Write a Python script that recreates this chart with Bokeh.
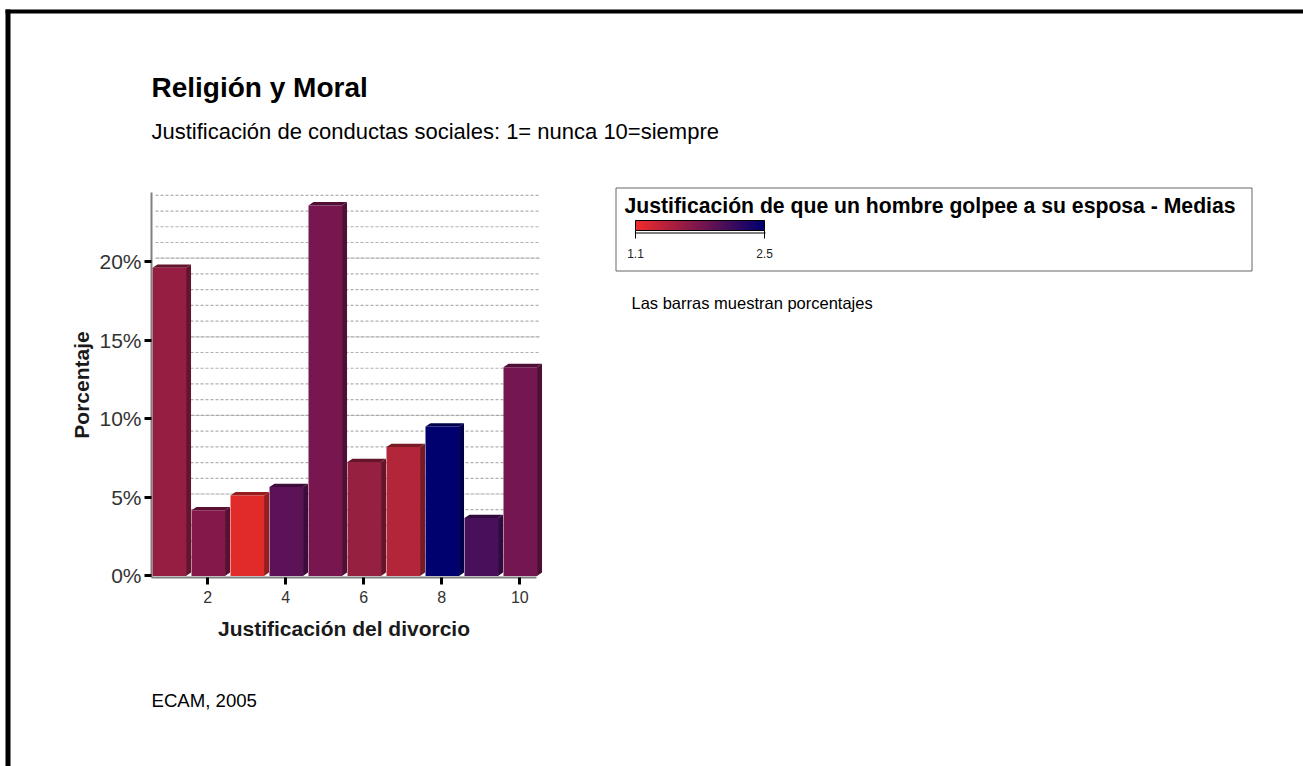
from bokeh.plotting import figure
from bokeh.embed import file_html
from bokeh.resources import INLINE
from bokeh.models import (Range1d, FixedTicker, PrintfTickFormatter, Label, PolyAnnotation,
                          ColorBar, LinearColorMapper)
import numpy as np

# ---- data ----
categories = [1, 2, 3, 4, 5, 6, 7, 8, 9, 10]
percentages = [19.6, 4.17, 5.12, 5.65, 23.57, 7.24, 8.2, 9.5, 3.68, 13.28]
bar_colors = ["#961E42", "#84184A", "#E12B2B", "#5C1256", "#781650",
              "#96203F", "#B32539", "#00006F", "#480F5A", "#741650"]
side_colors = ["#65142D", "#591032", "#971D1D", "#3E0C3A", "#510F36",
               "#65152A", "#781926", "#00004B", "#300A3D", "#4E0F36"]
y_ticks = [0, 5, 10, 15, 20]
x_ticks = [2, 4, 6, 8, 10]
minor_grid_levels = [1, 2, 3, 4, 6, 7, 8, 9, 11, 12, 13, 14, 16, 17, 18, 19, 21, 22, 23, 24]
major_grid_levels = [5, 10, 15, 20]
scale_low, scale_high = 1.1, 2.5
scale_colors = ("#F02C2C", "#00006F")

TITLE = "Religión y Moral"
SUBTITLE = "Justificación de conductas sociales: 1= nunca 10=siempre"
LEGEND_TITLE = "Justificación de que un hombre golpee a su esposa - Medias"
NOTE = "Las barras muestran porcentajes"
SOURCE = "ECAM, 2005"

W, H = 1303, 766
FONT = "Liberation Sans"
HALF = 0.43      # half bar width, x units
DX, DY = 0.128, 0.21   # 3-D depth
PX_X, PX_Y = 39.0, 15.72   # pixels per data unit
X_AT_2, Y_AT_0 = 207.3, 575.4   # page position of x=2 and y=0
x_start = 2 - X_AT_2 / PX_X
y_start = -(H - Y_AT_0) / PX_Y
AX_X, AX_Y = 0.556, -0.1   # where the axes cross

# the frame fills the page; the axes sit at fixed data positions inside it
p = figure(width=W, height=H, output_backend="svg", toolbar_location=None,
           x_range=Range1d(x_start, x_start + W / PX_X),
           y_range=Range1d(y_start, y_start + H / PX_Y),
           min_border=0, background_fill_color="white", border_fill_color="white",
           outline_line_color=None)
p.grid.visible = False

# back-wall grid, shifted up by the depth of the bars
x0, x1 = 0.659, 10.53
p.segment(x0=[x0] * len(minor_grid_levels), x1=[x1] * len(minor_grid_levels),
          y0=[v + DY for v in minor_grid_levels], y1=[v + DY for v in minor_grid_levels],
          line_color="#b0b0b0", line_width=1.2, line_dash="3 2")
p.segment(x0=[x0] * len(major_grid_levels), x1=[x1] * len(major_grid_levels),
          y0=[v + DY for v in major_grid_levels], y1=[v + DY for v in major_grid_levels],
          line_color="#a8a8a8", line_width=1.2, line_dash="4 1")

# bars: side, top, face
xc = np.array(categories, dtype=float) + 0.012
v = np.array(percentages)
side_xs = [[c + HALF, c + HALF + DX, c + HALF + DX, c + HALF] for c in xc]
side_ys = [[0, DY, h + DY, h] for h in v]
top_xs = [[c - HALF, c - HALF + DX, c + HALF + DX, c + HALF] for c in xc]
top_ys = [[h, h + DY, h + DY, h] for h in v]
p.patches(side_xs, side_ys, fill_color=side_colors, line_color=None)
p.patches(top_xs, top_ys, fill_color=side_colors, line_color=None)
p.quad(left=xc - HALF, right=xc + HALF, bottom=0, top=v, fill_color=bar_colors, line_color=None)

# axes
for ax in (p.xaxis[0], p.yaxis[0]):
    ax.axis_line_color = "#808080"
    ax.axis_line_width = 2
    ax.major_tick_line_color = "black"
    ax.major_tick_line_width = 3
    ax.major_tick_in = 0
    ax.major_tick_out = 7
    ax.minor_tick_line_color = None
    ax.major_label_text_font = FONT
    ax.major_label_text_color = "#333333"
    ax.axis_label_text_font = FONT
    ax.axis_label_text_font_style = "bold"
    ax.axis_label_text_color = "#1a1a1a"
    ax.axis_label_text_font_size = "21px"

p.yaxis[0].fixed_location = AX_X
p.yaxis[0].bounds = (AX_Y, 24.39)
p.yaxis[0].ticker = FixedTicker(ticks=y_ticks)
p.yaxis[0].formatter = PrintfTickFormatter(format="%d%%")
p.yaxis[0].major_label_text_font_size = "21px"
p.yaxis[0].major_label_standoff = 3
p.yaxis[0].axis_label = "Porcentaje"
p.yaxis[0].axis_label_standoff = 3

p.xaxis[0].fixed_location = AX_Y
p.xaxis[0].bounds = (AX_X, 10.44)
p.xaxis[0].ticker = FixedTicker(ticks=x_ticks)
p.xaxis[0].major_label_text_font_size = "16px"
p.xaxis[0].major_label_standoff = 7
p.xaxis[0].axis_label = "Justificación del divorcio"
p.xaxis[0].axis_label_standoff = 10


def text(t, x, y, size, bold=False, color="black"):
    p.add_layout(Label(x=x, y=H - y, x_units="screen", y_units="screen", text=t,
                       text_font=FONT, text_font_size=f"{size}px",
                       text_font_style="bold" if bold else "normal",
                       text_color=color, text_baseline="middle", text_align="left"))


def box(x0, y0, x1, y1, fill="black", line=None, fill_alpha=1.0):
    p.add_layout(PolyAnnotation(xs=[x0, x1, x1, x0],
                                ys=[H - y0, H - y0, H - y1, H - y1],
                                xs_units="screen", ys_units="screen",
                                fill_color=fill, fill_alpha=fill_alpha, line_color=line,
                                line_alpha=1, line_width=1, editable=False))


# page frame
box(5, 9, W, 13)
box(5, 9, 10, H)

# legend box
box(615.5, 187.5, 1251.5, 270.5, fill=None, line="#666666", fill_alpha=0)

text(TITLE, 151, 87, 28, bold=True)
text(SUBTITLE, 151, 131, 22)
text(LEGEND_TITLE, 624, 205, 21.2, bold=True)
text(NOTE, 631, 302, 16.5)
text(SOURCE, 151, 700, 18.6)

# colour scale
a = np.array([int(scale_colors[0][i:i + 2], 16) for i in (1, 3, 5)], dtype=float)
b = np.array([int(scale_colors[1][i:i + 2], 16) for i in (1, 3, 5)], dtype=float)
palette = ["#%02x%02x%02x" % tuple(int(c) for c in a + (b - a) * t) for t in np.linspace(0, 1, 128)]
cbar = ColorBar(color_mapper=LinearColorMapper(palette=palette, low=scale_low, high=scale_high),
                orientation="horizontal", width=129, height=10,
                location=(635, H - 260), padding=0, margin=0,
                ticker=FixedTicker(ticks=[scale_low, scale_high]),
                major_tick_in=0, major_tick_out=8, major_tick_line_color="black",
                major_tick_line_width=1, bar_line_color="black", bar_line_width=1,
                major_label_text_font=FONT, major_label_text_font_size="12px",
                major_label_text_color="#222222", label_standoff=10,
                background_fill_alpha=0, border_line_color=None)
p.add_layout(cbar)
box(635, 232, 765, 233)

open("out.html", "w").write(file_html(p, INLINE))
